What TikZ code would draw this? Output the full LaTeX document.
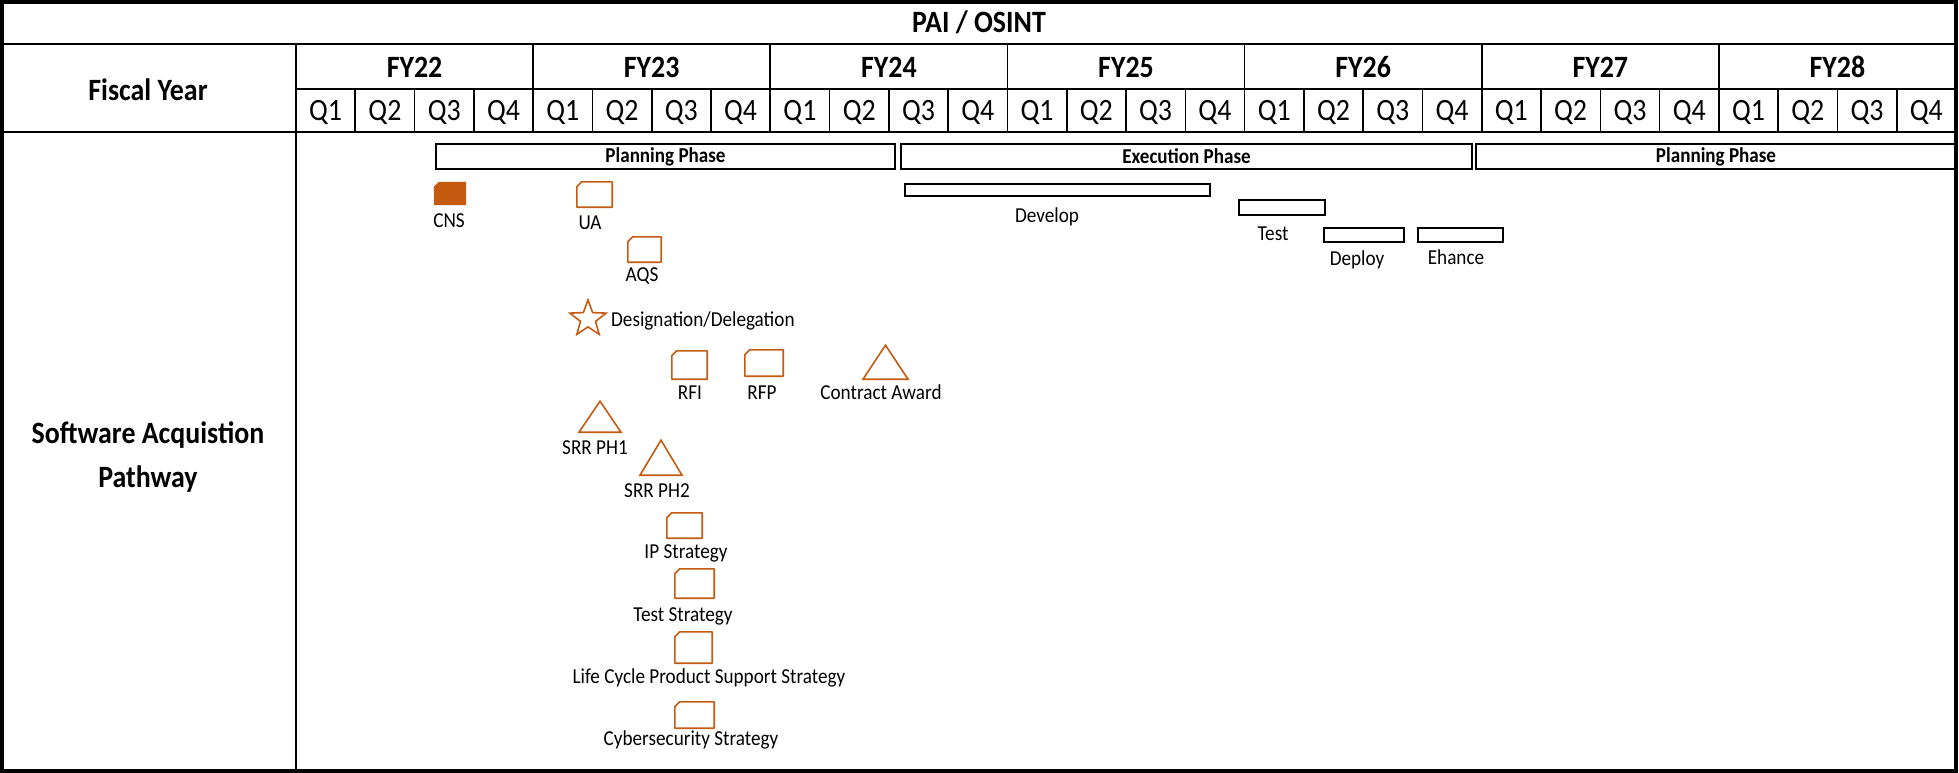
\documentclass[tikz,border=0pt]{standalone}
\usepackage{fontspec}
\setmainfont{Carlito}[FakeStretch=0.9]
\usepackage{tikz}
\usetikzlibrary{
  shapes.geometric,
  positioning
}
\definecolor{rust}{RGB}{197, 90, 17}

\begin{document}
\begin{tikzpicture}[
  x=1pt, y=-1pt,
  gridline/.style={line width=1.6pt, black},
  heavy/.style={line width=2.8pt, black},
  head/.style={font=\fontsize{31}{44}\selectfont\bfseries, inner sep=0, text height=20pt, text depth=0pt},
  qtr/.style={font=\fontsize{31}{36}\selectfont, inner sep=0, text height=20pt, text depth=0pt},
  phase/.style={rectangle, draw=black, line width=1.6pt, inner sep=0, minimum width=#1, minimum height=25pt, font=\fontsize{21.2}{24}\selectfont\bfseries},
  bar/.style 2 args={rectangle, draw=black, line width=1.6pt, inner sep=0, minimum width=#1, minimum height=#2},
  lbl/.style={font=\fontsize{21.3}{24}\selectfont, inner sep=0, text height=13.7pt, text depth=0pt},
  doc/.style 2 args={rectangle, inner sep=0, minimum width=#1, minimum height=#2},
  docline/.style={draw=rust, line width=1.6pt, line join=round},
  mile/.style 2 args={isosceles triangle, isosceles triangle stretches, shape border rotate=90, anchor=lower side, draw=rust, line width=1.6pt, inner sep=0, minimum width=#1, minimum height=#2}
]
\useasboundingbox (0,0) rectangle (1959,773);

% Table frame
\draw[heavy, line width=3.5pt] (2,2) rectangle (1956,771);
\draw[gridline] (2,44) -- (1956,44);
\draw[gridline] (296,89) -- (1956,89);
\draw[heavy] (2,132) -- (1956,132);
\draw[heavy] (296,44) -- (296,771);
\foreach \q in {1,...,27} {
  \pgfmathsetmacro\xq{296+59.286*\q}
  \draw[gridline] (\xq,89) -- (\xq,132);
}
\foreach \f in {1,...,6} {
  \pgfmathsetmacro\xf{296+237.143*\f}
  \draw[gridline] (\xf,44) -- (\xf,132);
}

% Header texts
\node[head] (title) at (979,23) {PAI / OSINT};
\node[head] (fiscal) at (148,91) {Fiscal Year};
\foreach \f [count=\i from 0] in {22,...,28}
  \node[head] (fy\f) at ({296+237.143*(\i+0.5)},68) {FY\f};
\foreach \q in {0,...,27} {
  \pgfmathtruncatemacro\k{mod(\q,4)+1}
  \node[qtr] (q\q) at ({296+59.286*(\q+0.5)},111) {Q\k};
}
\node[font=\fontsize{31}{44}\selectfont\bfseries, align=center, inner sep=0] (pathway) at (148,457) {Software Acquistion\\Pathway};

% Phase bars
\node[phase=459] (plan1) at (665.5,156.5) {Planning Phase};
\node[phase=571] (exec) at (1186.5,156.5) {Execution Phase};
\node[phase=480] (plan2) at (1716,156.5) {Planning Phase};

% Execution steps
\node[bar={305}{12}] (develop) at (1057.5,190) {};
\node[bar={86}{15}] (test) at (1282,207.5) {};
\node[bar={80}{14}] (deploy) at (1364,235) {};
\node[bar={85}{14}] (enhance) at (1460.5,235) {};
\node[lbl] (developlbl) at (1047,216) {Develop};
\node[lbl] (testlbl) at (1273,234) {Test};
\node[lbl] (deploylbl) at (1357,259) {Deploy};
\node[lbl] (enhancelbl) at (1456,258) {Ehance};

% Documents
\node[doc={32}{23}] (cns) at (450,193.5) {};
\node[doc={35}{25}] (ua) at (594.5,194.5) {};
\node[doc={33}{25}] (aqs) at (644.5,249.5) {};
\node[doc={35}{28}] (rfi) at (689.5,365) {};
\node[doc={38}{26}] (rfp) at (764,363) {};
\node[doc={35}{25}] (ipstrat) at (684.5,525.5) {};
\node[doc={39}{29}] (teststrat) at (694.5,583.5) {};
\node[doc={37}{31}] (lcps) at (693.5,647.5) {};
\node[doc={39}{26}] (cyber) at (694.5,715) {};
\fill[rust] ([yshift=-5pt]cns.north west) -- ([xshift=5pt]cns.north west) -- (cns.north east) -- (cns.south east) -- (cns.south west) -- cycle;
\foreach \d in {ua,aqs,rfi,rfp,ipstrat,teststrat,lcps,cyber}
  \draw[docline] ([yshift=-5pt]\d.north west) -- ([xshift=5pt]\d.north west) -- (\d.north east) -- (\d.south east) -- (\d.south west) -- cycle;
\node[lbl] (cnslbl) at (449,221) {CNS};
\node[lbl] (ualbl) at (590,223) {UA};
\node[lbl] (aqslbl) at (642,275) {AQS};
\node[lbl] (rfilbl) at (690,393) {RFI};
\node[lbl] (rfplbl) at (762,393) {RFP};
\node[lbl] (ipstratlbl) at (686,552) {IP Strategy};
\node[lbl] (teststratlbl) at (683,615) {Test Strategy};
\node[lbl] (lcpslbl) at (709,677) {Life Cycle Product Support Strategy};
\node[lbl] (cyberlbl) at (691,739) {Cybersecurity Strategy};

% Milestones
\node[star, star points=5, star point ratio=2.4, minimum size=38pt, draw=rust, line width=1.6pt, inner sep=0] (desig) at (588,319) {};
\node[lbl, anchor=west] (desiglbl) at (611,320) {Designation/Delegation};
\node[mile={45}{34}] (award) at (885.5,380) {};
\node[mile={42}{31}] (srr1) at (600,433) {};
\node[mile={42}{35}] (srr2) at (661,476) {};
\node[lbl] (awardlbl) at (881,393) {Contract Award};
\node[lbl] (srr1lbl) at (595,448) {SRR PH1};
\node[lbl] (srr2lbl) at (657,491) {SRR PH2};

\end{tikzpicture}
\end{document}
